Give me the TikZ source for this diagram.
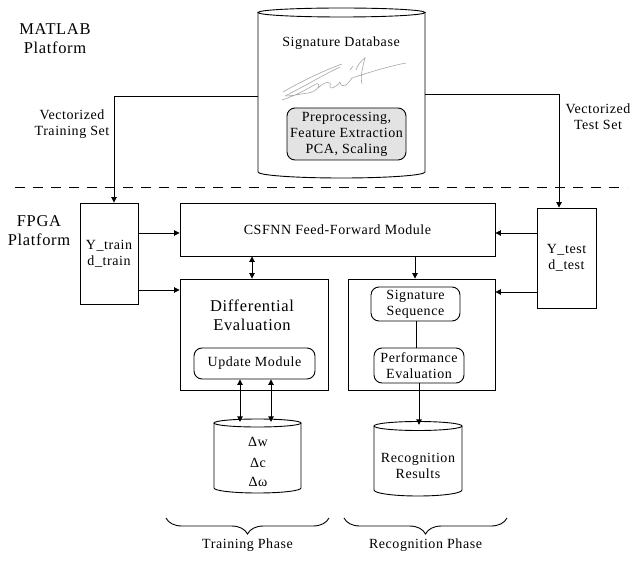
\documentclass[tikz,border=0pt]{standalone}
\usepackage{fontspec}
\setmainfont{Liberation Serif}[LetterSpace=4]
\usetikzlibrary{arrows.meta,decorations.pathreplacing}
\tikzset{
  line/.style={line width=0.9pt},
  arr/.style={line, -{Triangle[length=5.5pt,width=5.5pt]}},
  darr/.style={line, {Triangle[length=5.5pt,width=5.5pt]}-{Triangle[length=5.5pt,width=5.5pt]}},
  block/.style={draw, line, rectangle, inner sep=0pt},
  module/.style={draw, line, rounded corners=8pt, inner sep=0pt, align=center},
  txt/.style={font=\fontsize{14}{16}\selectfont, align=center, inner sep=0pt},
  bigtxt/.style={font=\fontsize{16.5}{19}\selectfont, align=center, inner sep=0pt},
  sigink/.style={line width=0.6pt, gray!70},
  phase/.style={line, decorate, decoration={brace, mirror, amplitude=16pt}},
}
\begin{document}
\begin{tikzpicture}[x=1pt,y=-1pt]
\useasboundingbox (0,0) rectangle (636,561);
% platform labels
\node[bigtxt] (matlab) at (55,39) {MATLAB\\Platform};
\node[bigtxt] (fpga) at (39,231) {FPGA\\Platform};
\draw[line, dash pattern=on 10pt off 8pt] (15,187) -- (627,187);
% signature database
\node[minimum width=167pt, minimum height=160pt, inner sep=0pt] (sigdb) at (341.5,92.5) {};
\draw[line] (258,12.5) -- (258,172) arc[start angle=180, end angle=0, x radius=83.5, y radius=6] -- (425,12.5);
\draw[line] (341.5,12.5) ellipse[x radius=83.5, y radius=4.5];
\node[txt] (dbtitle) at (341,43) {Signature Database};
\draw[sigink] (283,92) .. controls (300,82) and (325,70) .. (342,64);
\draw[sigink] (285,96) .. controls (305,86) and (325,74) .. (340,67);
\draw[sigink] (282,100) .. controls (300,94) and (312,86) .. (316,84)
  .. controls (322,82) and (318,92) .. (308,93) .. controls (300,94) and (292,96) .. (286,96);
\draw[sigink] (318,88) .. controls (324,82) and (332,80) .. (330,86) .. controls (328,90) and (336,88) .. (340,82)
  .. controls (342,90) and (348,84) .. (352,78);
\draw[sigink] (350,70) -- (353,66);
\draw[sigink] (356,70) .. controls (358,64) and (362,60) .. (365,58) .. controls (363,66) and (360,76) .. (362,84);
\draw[sigink] (352,78) .. controls (370,72) and (390,66) .. (406,63);
\node[module, fill=gray!22, minimum width=119pt, minimum height=52pt, txt] (prep) at (346.5,134) {Preprocessing,\\Feature Extraction\\PCA, Scaling};
\node[txt] (vtrain) at (72,124) {Vectorized\\Training Set};
\node[txt] (vtest) at (598,117) {Vectorized\\Test Set};
% FPGA blocks
\node[block, minimum width=58pt, minimum height=101pt, txt] (ytrain) at (109,253.5) {Y\_train\\d\_train};
\node[block, minimum width=59pt, minimum height=100pt, txt] (ytest) at (566.5,258) {Y\_test\\d\_test};
\node[block, minimum width=315pt, minimum height=53pt, txt] (csfnn) at (337.5,229.5) {CSFNN Feed-Forward Module};
\node[block, minimum width=148pt, minimum height=111pt] (diffeval) at (254,334.5) {};
\node[bigtxt] (detitle) at (252,315) {Differential\\Evaluation};
\node[module, minimum width=121pt, minimum height=31pt, txt] (update) at (254.5,363.5) {Update Module};
\node[block, minimum width=147pt, minimum height=111pt] (recog) at (421.5,334.5) {};
\node[module, minimum width=89pt, minimum height=34pt, txt] (sigseq) at (415.5,304) {Signature\\Sequence};
\node[module, minimum width=90pt, minimum height=35pt, txt] (perfeval) at (419,365.5) {Performance\\Evaluation};
% storage cylinders
\node[minimum width=87pt, minimum height=70pt, inner sep=0pt] (deltadb) at (257.5,457) {};
\draw[line] (214,423) -- (214,488) arc[start angle=180, end angle=0, x radius=43.5, y radius=5] -- (301,423);
\draw[line] (257.5,423) ellipse[x radius=43.5, y radius=4];
\node[txt] (dw) at (258,442) {Δw};
\node[txt] (dc) at (258,463) {Δc};
\node[txt] (dom) at (258,482) {Δω};
\node[minimum width=88pt, minimum height=70pt, inner sep=0pt] (resultdb) at (418,460) {};
\draw[line] (374,426) -- (374,490) arc[start angle=180, end angle=0, x radius=44, y radius=6] -- (462,426);
\draw[line] (418,426) ellipse[x radius=44, y radius=4.5];
\node[txt] (results) at (418,466) {Recognition\\Results};
% connectors
\draw[arr] (sigdb.west |- 0,96) -| (ytrain.north -| 114,0);
\draw[arr] (sigdb.east |- 0,94) -| (ytest.north -| 559,0);
\draw[arr] (ytrain.east |- 0,233) -- (csfnn.west |- 0,233);
\draw[arr] (ytrain.east |- 0,290) -- (diffeval.west |- 0,290);
\draw[arr] (ytest.west |- 0,233) -- (csfnn.east |- 0,233);
\draw[arr] (ytest.west |- 0,292) -- (recog.east |- 0,292);
\draw[darr] (csfnn.south -| 252,0) -- (diffeval.north -| 252,0);
\draw[arr] (csfnn.south -| 415,0) -- (recog.north -| 415,0);
\draw[darr] (update.south -| 240,0) -- (deltadb.north -| 240,0);
\draw[darr] (update.south -| 271,0) -- (deltadb.north -| 271,0);
\draw[line] (sigseq.south -| 416,0) -- (perfeval.north -| 416,0);
\draw[arr] (perfeval.south -| 419,0) -- (resultdb.north -| 419,0);
% phases
\draw[phase] (166,518) -- (329,518) node[midway, below=20pt, txt] (trainph) {Training Phase};
\draw[phase] (344,518) -- (507,518) node[midway, below=20pt, txt] (recph) {Recognition Phase};
\end{tikzpicture}
\end{document}
